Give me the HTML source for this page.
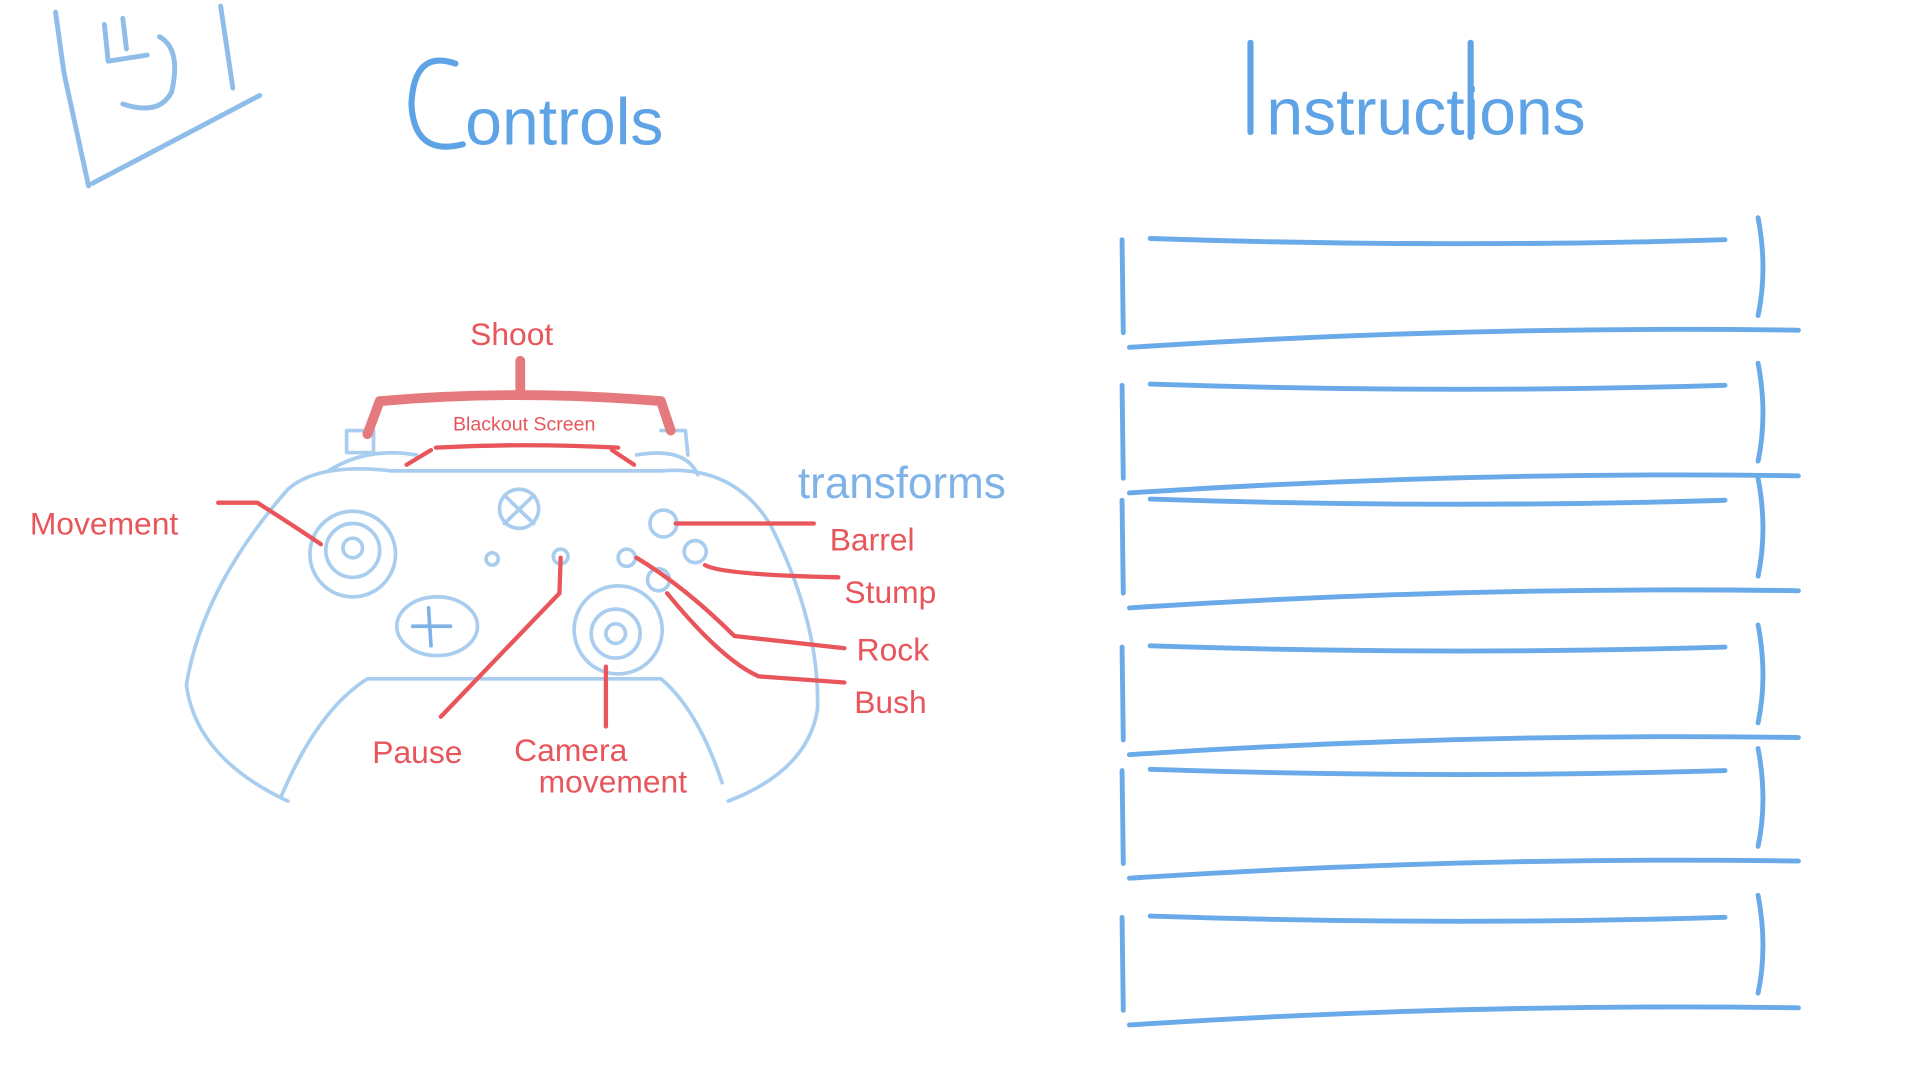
<!DOCTYPE html>
<html><head><meta charset="utf-8"><style>
html,body{margin:0;padding:0;background:#fff;width:1920px;height:1080px;overflow:hidden}
svg{display:block}
text{font-family:"Liberation Sans",sans-serif}
</style></head><body>
<svg width="1920" height="1080" viewBox="0 0 1569 883" xmlns="http://www.w3.org/2000/svg">
<g fill="none" stroke-linecap="round" stroke-linejoin="round">
<g stroke="#8fbde9" stroke-width="4">
<path d="M45 10 L52 60 L72 152"/>
<path d="M75 150 L212 78"/>
<path d="M180 5 L190 72"/>
<path d="M130 30 Q148 40 140 75 Q130 95 100 85"/>
<path d="M85 20 L88 50 L120 45"/>
<path d="M100 15 L103 40"/>
</g>
<g stroke="#5ea3e6" stroke-width="5">
<path d="M372 52 Q338 40 336 85 Q338 128 378 118"/>
<path d="M1022 35 L1022 108"/>
<path d="M1202 35 L1202 112"/>
</g>
<g stroke="#a9cdee" stroke-width="3">
<path d="M235 655 Q160 620 152 560 Q165 480 235 400 Q260 378 320 385 L540 385 Q600 380 630 430 Q670 510 668 580 Q660 630 595 655"/>
<path d="M230 650 Q260 580 300 555 L540 555 Q570 580 590 640"/>
<path d="M283 352 L305 352 L305 370 L283 370 Z"/>
<path d="M540 352 L560 352 L562 372"/>
<path d="M268 385 Q300 365 340 372"/>
<path d="M520 372 Q560 365 570 388"/>
<circle cx="288" cy="453" r="35"/><circle cx="288" cy="450" r="22"/><circle cx="288" cy="448" r="8"/>
<circle cx="505" cy="515" r="36"/><circle cx="503" cy="518" r="20"/><circle cx="503" cy="518" r="8"/>
<ellipse cx="357" cy="512" rx="33" ry="24"/>
<path d="M350 497 L352 528 M337 512 L368 512" stroke="#7fb3e8"/>
<circle cx="424" cy="416" r="16"/><path d="M412 405 L436 428 M436 405 L412 428"/>
<circle cx="402" cy="457" r="5"/><circle cx="458" cy="455" r="6"/>
<circle cx="542" cy="428" r="11"/><circle cx="568" cy="451" r="9"/>
<circle cx="512" cy="456" r="7"/><circle cx="538" cy="474" r="9"/>
</g>
<g stroke="#e8555a" stroke-width="3.5">
<path d="M300 355 L310 328 Q420 318 540 328 L548 352" stroke="#e57a7e" stroke-width="8"/>
<path d="M425 295 L425 320" stroke="#e57a7e" stroke-width="8"/>
<path d="M356 366 Q430 362 505 366"/>
<path d="M332 380 L352 368 M518 380 L500 368"/>
<path d="M178 411 L210 411 Q240 430 262 445"/>
<path d="M458 456 L457 485 L360 586"/>
<path d="M495 545 L495 594"/>
<path d="M552 428 L665 428"/>
<path d="M576 462 Q590 470 685 472"/>
<path d="M520 456 Q560 480 600 520 L690 530"/>
<path d="M545 485 Q590 540 620 553 L690 558"/>
</g>
<g stroke="#6aaae8" stroke-width="4">
<g id="b">
<path d="M917 196 L918 272"/>
<path d="M940 195 Q1180 203 1410 196"/>
<path d="M923 284 Q1200 266 1470 270"/>
<path d="M1437 178 Q1445 220 1437 258"/>
</g>
<use href="#b" y="119"/>
<use href="#b" y="213"/>
<use href="#b" y="333"/>
<use href="#b" y="434"/>
<use href="#b" y="554"/>
</g>
</g>
<g font-size="54" fill="#5ea3e6">
<text x="380" y="118">ontrols</text>
<text x="1035" y="110">nstructions</text>
</g>
<g fill="#e8555a" font-size="26">
<text x="384" y="282">Shoot</text>
<text x="24" y="437">Movement</text>
<text x="678" y="450">Barrel</text>
<text x="690" y="493">Stump</text>
<text x="700" y="540">Rock</text>
<text x="698" y="583">Bush</text>
<text x="304" y="624">Pause</text>
<text x="420" y="622">Camera</text>
<text x="440" y="648">movement</text>
<text x="370" y="352" font-size="16">Blackout Screen</text>
</g>
<text x="652" y="407" font-size="36" fill="#7fb3e8">transforms</text>
</svg>
</body></html>
